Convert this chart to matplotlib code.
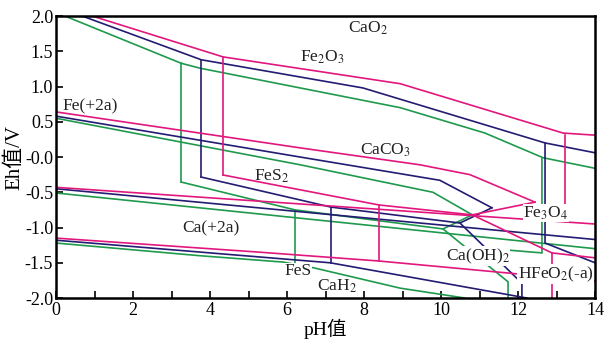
import matplotlib
matplotlib.use("Agg")
import matplotlib.pyplot as plt

plt.rcParams['font.family'] = ['Liberation Serif', 'Noto Sans CJK SC', 'DejaVu Sans']
plt.rcParams['mathtext.fontset'] = 'stix'

MAG = '#e2177d'
NAV = '#231c72'
GRN = '#1f9a4c'

# boundary polylines: (pH list, Eh list)
green_lines = [
    ([0.23, 3.25, 3.74, 8.94, 11.14, 12.65, 14.0], [2.0, 1.33, 1.26, 0.70, 0.34, -0.01, -0.16]),
    ([3.25, 3.25], [1.33, -0.355]),
    ([0.0, 6.34, 9.79, 10.81], [0.55, -0.11, -0.50, -0.82]),
    ([3.25, 6.21, 10.05, 10.81], [-0.355, -0.75, -1.02, -0.82]),
    ([10.05, 11.74, 11.74], [-1.02, -1.77, -2.0]),
    ([11.74, 12.62, 12.62], [-1.32, -1.36, -0.01]),
    ([0.0, 14.0], [-0.51, -1.30]),
    ([0.0, 3.74, 5.9, 6.68, 8.94, 10.62], [-1.22, -1.40, -1.49, -1.57, -1.86, -2.0]),
    ([6.21, 6.21], [-0.75, -1.52]),
]
navy_lines = [
    ([0.68, 3.77, 7.97, 12.70, 14.0], [2.0, 1.38, 0.98, 0.20, 0.06]),
    ([3.77, 3.77], [1.38, -0.284]),
    ([0.0, 6.34, 9.97, 11.32], [0.58, 0.0, -0.33, -0.72]),
    ([3.77, 7.14, 10.49, 11.32], [-0.284, -0.71, -0.936, -0.72]),
    ([10.49, 12.10, 12.10], [-0.936, -1.79, -2.0]),
    ([12.70, 12.70, 14.0], [0.20, -1.22, -1.50]),
    ([0.0, 14.0], [-0.45, -1.17]),
    ([0.0, 7.12, 12.23], [-1.18, -1.50, -2.0]),
    ([7.14, 7.14], [-0.71, -1.50]),
]
magenta_lines = [
    ([0.94, 4.34, 8.94, 13.17, 14.0], [2.0, 1.42, 1.04, 0.34, 0.31]),
    ([4.34, 4.34], [1.42, -0.255]),
    ([0.0, 6.34, 9.45, 10.75, 12.44], [0.64, 0.13, -0.11, -0.25, -0.64]),
    ([4.34, 8.39, 10.81, 12.44], [-0.255, -0.68, -0.82, -0.64]),
    ([10.81, 12.88, 14.0], [-0.82, -1.36, -1.43]),
    ([12.88, 12.88], [-1.36, -2.0]),
    ([13.22, 13.22], [0.31, -0.92]),
    ([0.0, 14.0], [-0.43, -0.95]),
    ([0.0, 5.30, 8.39, 14.0], [-1.15, -1.35, -1.475, -1.76]),
    ([8.39, 8.39], [-0.68, -1.475]),
]

labels = [
    (8.10, 1.82, 'CaO$_2$', False),
    (6.91, 1.41, 'Fe$_2$O$_3$', False),
    (0.88, 0.72, 'Fe(+2a)', False),
    (8.55, 0.10, 'CaCO$_3$', False),
    (5.61, -0.27, 'FeS$_2$', False),
    (12.72, -0.80, 'Fe$_3$O$_4$', True),
    (4.03, -1.01, 'Ca(+2a)', False),
    (10.96, -1.41, 'Ca(OH)$_2$', True),
    (12.98, -1.66, 'HFeO$_2$(-a)', True),
    (6.29, -1.62, 'FeS', True),
    (7.30, -1.84, 'CaH$_2$', False),
]

fig = plt.figure(figsize=(6.05, 3.41), dpi=100)
ax = fig.add_axes([0.0926, 0.126, 0.891, 0.827])

for lines, c in ((green_lines, GRN), (navy_lines, NAV), (magenta_lines, MAG)):
    for xs, ys in lines:
        ax.plot(xs, ys, color=c, lw=1.2, solid_joinstyle='miter', zorder=2)

for x, y, t, box in labels:
    kw = {}
    if box:
        kw['bbox'] = dict(facecolor='white', edgecolor='none', pad=0.3)
    ax.text(x, y, t, fontsize=12.5, ha='center', va='center', color='#222222',
            zorder=3, **kw)

ax.set_xlim(0, 14)
ax.set_ylim(-2.0, 2.0)
ax.set_xticks(range(0, 15, 2))
ax.set_xticks(range(1, 14, 2), minor=True)
ax.set_yticks([2.0, 1.5, 1.0, 0.5, 0.0, -0.5, -1.0, -1.5, -2.0])
ax.set_yticklabels(['2.0', '1.5', '1.0', '0.5', '-0.0', '-0.5', '-1.0', '-1.5', '-2.0'])
ax.tick_params(direction='in', length=5, width=1.2, labelsize=13, pad=2)
ax.tick_params(axis='x', pad=3)
ax.tick_params(which='minor', direction='in', length=5, width=1.2)
for s in ax.spines.values():
    s.set_linewidth(1.8)
    s.set_zorder(4)
ax.set_xlabel('pH值', fontsize=14, labelpad=0)
ax.set_ylabel('Eh值/V', fontsize=15, labelpad=0)

fig.savefig('out.png', dpi=100)
